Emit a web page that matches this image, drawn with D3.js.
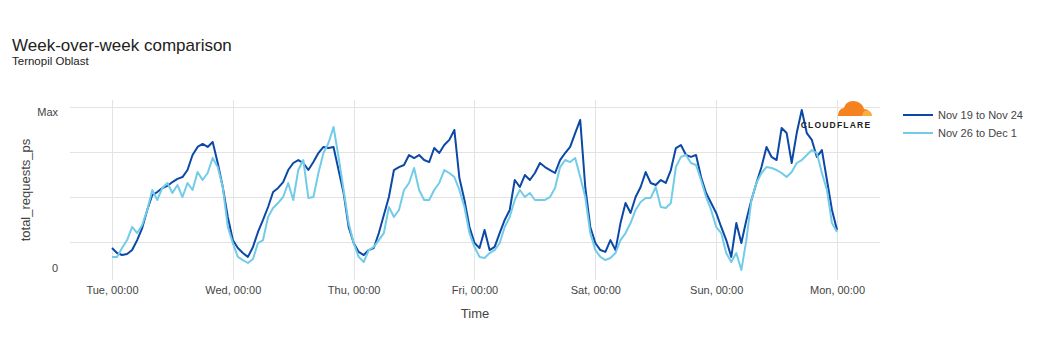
<!DOCTYPE html>
<html>
<head>
<meta charset="utf-8">
<script src="https://cdn.jsdelivr.net/npm/d3@7"></script>
<style>
  html, body { margin: 0; padding: 0; background: #fff; }
  svg { display: block; font-family: "Liberation Sans", Arial, Helvetica, sans-serif; }
</style>
</head>
<body>
<svg id="chart" width="1040" height="360"></svg>
<script>
// ---- data (hourly, Tue 00:00 -> Mon 00:00), values as % of max ----
const startDate = new Date(2024, 10, 19, 0, 0);   // Tuesday
const stepHours = 1;
const seriesNames = ["Nov 19 to Nov 24", "Nov 26 to Dec 1"];
const seriesColors = ["#0c48a6", "#72cce8"];

const thisWeek = [
  12.8, 9.6, 8.3, 9.0, 11.5, 17.9, 25.6, 37.2, 46.8, 48.7, 51.3, 52.6, 55.1, 57.1, 58.3, 62.8, 72.4, 77.6, 79.5, 77.6, 80.8, 67.3, 51.9, 32.7, 17.9,
  12.8, 9.6, 7.1, 13.5, 23.1, 30.8, 39.1, 48.7, 51.3, 55.1, 62.8, 67.3, 69.2, 67.3, 62.8, 67.9, 73.7, 77.6, 76.9, 77.6, 62.8, 48.1, 26.3, 16.0,
  10.3, 8.3, 11.5, 12.8, 22.4, 34.0, 45.5, 62.8, 64.7, 66.0, 72.4, 70.5, 72.4, 69.2, 67.9, 76.9, 73.7, 78.8, 82.1, 88.5, 57.7, 43.6, 26.3, 16.0,
  12.8, 24.4, 11.5, 13.5, 22.4, 30.8, 37.2, 56.4, 51.9, 59.6, 56.4, 60.9, 67.3, 64.7, 62.8, 60.9, 69.2, 73.7, 77.6, 86.5, 94.9, 51.9, 26.3, 16.0,
  11.5, 10.3, 17.9, 11.5, 28.8, 41.7, 35.3, 45.5, 51.9, 61.5, 54.5, 53.2, 56.4, 54.5, 62.8, 76.9, 78.8, 72.4, 71.2, 72.4, 58.3, 48.1, 41.7, 35.3,
  26.3, 17.9, 7.1, 28.8, 16.0, 30.8, 43.6, 54.5, 64.7, 77.6, 71.2, 69.2, 89.7, 86.5, 67.3, 86.5, 101.3, 86.5, 82.1, 71.2, 75.6, 56.4, 37.2, 24.4
];
const lastWeek = [
  7.1, 7.1, 12.8, 17.9, 26.3, 22.4, 27.6, 37.2, 50.0, 43.6, 51.3, 54.5, 48.1, 53.2, 45.5, 54.5, 50.0, 61.5, 56.4, 60.9, 70.5, 64.7, 51.9, 26.3, 16.0,
  7.1, 5.1, 3.2, 5.8, 16.0, 17.9, 32.7, 38.5, 41.7, 45.5, 54.5, 43.6, 62.8, 69.2, 44.9, 45.5, 60.9, 73.7, 80.1, 90.4, 71.2, 50.0, 28.8, 16.0,
  7.1, 3.8, 11.5, 13.5, 17.9, 22.4, 39.1, 32.7, 37.2, 50.0, 54.5, 64.1, 50.0, 43.6, 43.6, 50.0, 54.5, 62.8, 60.9, 58.3, 50.0, 39.1, 22.4, 13.5,
  7.1, 6.4, 9.6, 11.5, 16.0, 26.3, 32.7, 43.6, 50.0, 45.5, 48.1, 43.6, 43.6, 43.6, 45.5, 51.3, 64.7, 69.2, 67.9, 70.5, 58.3, 45.5, 22.4, 11.5,
  7.1, 5.1, 6.4, 9.6, 17.9, 22.4, 28.8, 37.2, 42.3, 44.9, 44.9, 51.9, 39.1, 38.5, 41.7, 64.7, 71.2, 72.4, 67.3, 66.0, 56.4, 45.5, 37.2, 26.3,
  22.4, 9.6, 3.8, 9.6, -1.3, 17.9, 43.6, 54.5, 60.9, 64.7, 64.1, 62.8, 60.9, 58.3, 61.5, 67.3, 69.2, 72.4, 75.6, 73.7, 60.9, 50.0, 28.8, 23.1
];
const yTickValues = [0, 100];
const yTickLabels = ["0", "Max"];
const yGridValues = [16.7, 45.5, 74.4, 103.2];

// ---- layout ----
const svg = d3.select("#chart");
const plot = { left: 70, right: 880, top: 100, bottom: 280 };
const hourMs = 3600 * 1000;
const xDomainStart = new Date(startDate.getTime() - 8.34 * hourMs);
const xDomainEnd = new Date(startDate.getTime() + (144 + 8.54) * hourMs);

const x = d3.scaleTime().domain([xDomainStart, xDomainEnd]).range([plot.left, plot.right]);
const y = d3.scaleLinear().domain([0, 100]).range([268, 112]);

const timeOf = i => new Date(startDate.getTime() + i * stepHours * hourMs);

// title
svg.append("text").attr("x", 12).attr("y", 51).attr("font-size", 17).attr("fill", "#222")
  .text("Week-over-week comparison");
svg.append("text").attr("x", 12).attr("y", 65).attr("font-size", 11.5).attr("fill", "#222")
  .text("Ternopil Oblast");

// grid
const grid = svg.append("g");
grid.selectAll("line.h").data(yGridValues).join("line")
  .attr("x1", plot.left).attr("x2", plot.right)
  .attr("y1", d => Math.round(y(d)) + 0.5).attr("y2", d => Math.round(y(d)) + 0.5)
  .attr("stroke", "#e3e3e3").attr("stroke-width", 1);

const dayTicks = d3.timeDay.range(startDate, new Date(startDate.getTime() + 145 * hourMs));
grid.selectAll("line.v").data(dayTicks).join("line")
  .attr("x1", d => Math.round(x(d)) + 0.5).attr("x2", d => Math.round(x(d)) + 0.5)
  .attr("y1", plot.top).attr("y2", plot.bottom)
  .attr("stroke", "#e3e3e3").attr("stroke-width", 1);

// x axis
const xAxis = d3.axisBottom(x).tickValues(dayTicks).tickFormat(d3.timeFormat("%a, %H:%M")).tickSize(0).tickPadding(0);
const gx = svg.append("g").attr("transform", `translate(0,${plot.bottom + 14})`).call(xAxis);
gx.select(".domain").remove();
gx.selectAll("text").attr("font-size", 11).attr("fill", "#444").attr("font-family", "Liberation Sans, Arial, sans-serif").attr("dy", "0");

svg.append("text").attr("x", (plot.left + plot.right) / 2 + 0).attr("y", 318).attr("text-anchor", "middle")
  .attr("font-size", 13).attr("fill", "#444").text("Time");

// y axis
const yAxis = d3.axisLeft(y).tickValues(yTickValues).tickFormat((d, i) => yTickLabels[i]).tickSize(0).tickPadding(0);
const gy = svg.append("g").attr("transform", `translate(58,0)`).call(yAxis);
gy.select(".domain").remove();
gy.selectAll("text").attr("font-size", 11).attr("fill", "#444").attr("font-family", "Liberation Sans, Arial, sans-serif");

svg.append("text").attr("transform", `translate(30,${(plot.top + plot.bottom) / 2}) rotate(-90)`)
  .attr("text-anchor", "middle").attr("font-size", 13).attr("fill", "#444").text("total_requests_ps");

// lines
const line = d3.line().x((d, i) => x(timeOf(i))).y(d => y(d)).curve(d3.curveLinear);
[thisWeek, lastWeek].forEach((s, k) => {
  svg.append("path").datum(s).attr("d", line).attr("fill", "none")
    .attr("stroke", seriesColors[k]).attr("stroke-width", 2).attr("stroke-linejoin", "round");
});

// legend
const legend = svg.append("g").attr("transform", "translate(903,115)");
seriesNames.forEach((n, k) => {
  const g = legend.append("g").attr("transform", `translate(0,${k * 18})`);
  g.append("line").attr("x1", 0).attr("x2", 30).attr("y1", 0).attr("y2", 0)
    .attr("stroke", seriesColors[k]).attr("stroke-width", 2);
  g.append("text").attr("x", 35).attr("y", 4).attr("font-size", 11).attr("fill", "#444").text(n);
});

// Cloudflare logo
const logo = svg.append("g");
logo.append("path")
  .attr("d", "M838,116 L871,116 C871,112 868,109 864,109 C863,104 858,101 853,101 C848,101 845,104 844,108 C841,108 838,111 838,116 Z")
  .attr("fill", "#f6821f");
logo.append("path")
  .attr("d", "M862,116 L872,116 C872,112.5 870,110.5 866,110.5 C864,110.5 863,112 862,116 Z")
  .attr("fill", "#fbad41");
logo.append("text").attr("x", 836).attr("y", 128).attr("text-anchor", "middle")
  .attr("font-size", 8.5).attr("font-weight", "bold").attr("letter-spacing", 1.2).attr("fill", "#222")
  .text("CLOUDFLARE");
</script>
</body>
</html>
